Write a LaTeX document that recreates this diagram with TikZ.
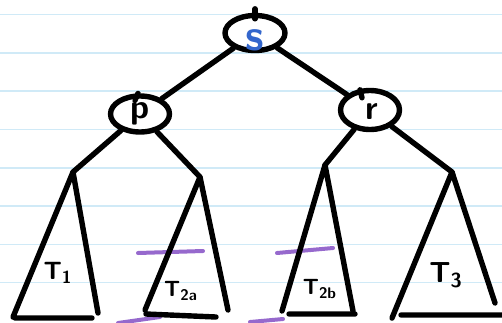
\documentclass[tikz,border=0pt]{standalone}
\usetikzlibrary{shapes.geometric}
\definecolor{paperline}{RGB}{208,234,247}
\definecolor{sblue}{RGB}{51,102,204}
\definecolor{hlpurple}{RGB}{150,105,205}
\begin{document}
\begin{tikzpicture}[x=0.5pt,y=-0.5pt,
		pen/.style={line width=2.7pt,line cap=round,line join=round},
		bubble/.style={pen,draw,ellipse,inner sep=0pt},
		letter/.style={inner sep=0pt,font=\sffamily\bfseries\fontsize{17}{17}\selectfont},
		tlabel/.style={inner sep=0pt,font=\sffamily\bfseries\fontsize{12.5}{12.5}\selectfont},
		hilite/.style={draw=hlpurple,line width=2pt,line cap=round}]
		\useasboundingbox (0,0) rectangle (502,322);
		\foreach \k in {0,...,7}
			\draw[paperline,line width=0.8pt] (0,{14.5+38.3*\k}) -- (502,{14.5+38.3*\k});
		% purple strokes across the middle subtrees
		\draw[hilite] (138,253) -- (203,251) (118,323) -- (160,317);
		\draw[hilite] (277,253) -- (333,248) (250,322) -- (283,319);
		% vertices
		\node[bubble,minimum width=30pt,minimum height=17.5pt] (s) at (255,33) {};
		\node[bubble,minimum width=29.5pt,minimum height=18pt] (p) at (140,114) {};
		\node[bubble,minimum width=29.5pt,minimum height=19.5pt] (r) at (370,110) {};
		\node[letter,text=sblue,font=\sffamily\bfseries\fontsize{22}{22}\selectfont] (sl) at ([yshift=-3.5pt]s.center) {s};
		\node[letter] (pl) at (p) {p};
		\node[letter] (rl) at ([xshift=1pt,yshift=-1pt]r.center) {r};
		\draw[pen] ([yshift=2pt]s.north) -- ([yshift=-3pt]s.north);
		\draw[pen] ([xshift=-1pt]p.north) -- ([xshift=-2.5pt,yshift=-3.5pt]p.north);
		\draw[pen] ([xshift=-5pt,yshift=-1pt]r.north) -- ([xshift=-4pt,yshift=-5pt]r.north);
		% subtree apexes
		\coordinate (a1) at (73,172);
		\coordinate (a2) at (200,177);
		\coordinate (a3) at (325,165);
		\coordinate (a4) at (452,172);
		\draw[pen] (s) -- (p) (s) -- (r);
		\draw[pen] (p) -- (a1) (p) -- (a2);
		\draw[pen] (r) -- (a3) (r) -- (a4);
		% subtrees
		\draw[pen] (13,317) -- (a1) -- (98,313) (15,318) -- (92,318);
		\draw[pen] (145,310) -- (a2) -- (228,310) (146,314) -- (216,317);
		\draw[pen] (282,311) -- (a3) -- (353,311) (289,314) -- (355,314);
		\draw[pen] (392,318) -- (a4) -- (495,303) (401,315) -- (502,315);
		\node[tlabel] (t1) at (58,273) {T\textsubscript{1}};
		\node[tlabel,font=\sffamily\bfseries\fontsize{11}{11}\selectfont] (t2a) at (181,291) {T\textsubscript{2a}};
		\node[tlabel,font=\sffamily\bfseries\fontsize{11}{11}\selectfont] (t2b) at (320,289) {T\textsubscript{2b}};
		\node[tlabel,font=\sffamily\bfseries\fontsize{14.5}{14.5}\selectfont] (t3) at (446,275) {T\textsubscript{3}};
\end{tikzpicture}
\end{document}
